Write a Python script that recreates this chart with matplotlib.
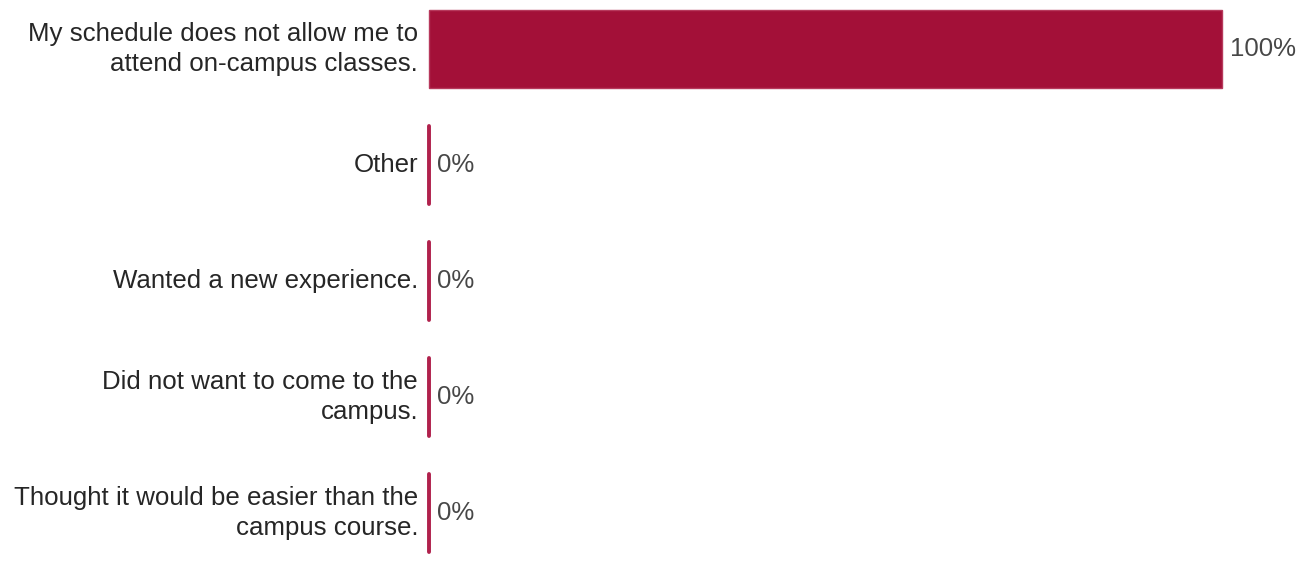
import matplotlib
matplotlib.use("Agg")
import matplotlib.pyplot as plt

categories = [
    "My schedule does not allow me to\nattend on-campus classes.",
    "Other",
    "Wanted a new experience.",
    "Did not want to come to the\ncampus.",
    "Thought it would be easier than the\ncampus course.",
]
percentages = [100, 0, 0, 0, 0]

bar_color = "#A31038"
edge_color = "#B7395C"
bar_height = 0.67

W, H = 1309, 563
fig = plt.figure(figsize=(W / 100, H / 100), dpi=100)
ax = fig.add_axes([429 / W, 0, (1222 - 429) / W, 1])

positions = list(range(len(categories)))
ax.barh(positions, percentages, height=bar_height, color=bar_color,
        edgecolor=edge_color, linewidth=1.0, clip_on=False)

# empty categories are still shown as a thin stub at their value
zero_pos = [p for p, v in zip(positions, percentages) if v == 0]
zero_val = [v for v in percentages if v == 0]
ax.vlines(zero_val, [p - bar_height / 2 for p in zero_pos],
          [p + bar_height / 2 for p in zero_pos],
          color="#B0214C", linewidth=2.8, capstyle="round", clip_on=False)

ax.set_xlim(0, 100)
ax.set_ylim((H - 49) / 116, -49 / 116)

for y, label, value in zip(positions, categories, percentages):
    ax.annotate(label, xy=(0, y), xytext=(-11, 0), textcoords="offset pixels",
                ha="right", va="center", fontsize=18.6, color="#262626",
                family="Liberation Sans", linespacing=1.27,
                annotation_clip=False)
    ax.annotate(f"{value}%", xy=(value, y), xytext=(8, 0), textcoords="offset pixels",
                ha="left", va="center", fontsize=18.6, color="#474747",
                family="Liberation Sans", annotation_clip=False)

ax.axis("off")
fig.savefig("out.png", dpi=100, facecolor="white")
